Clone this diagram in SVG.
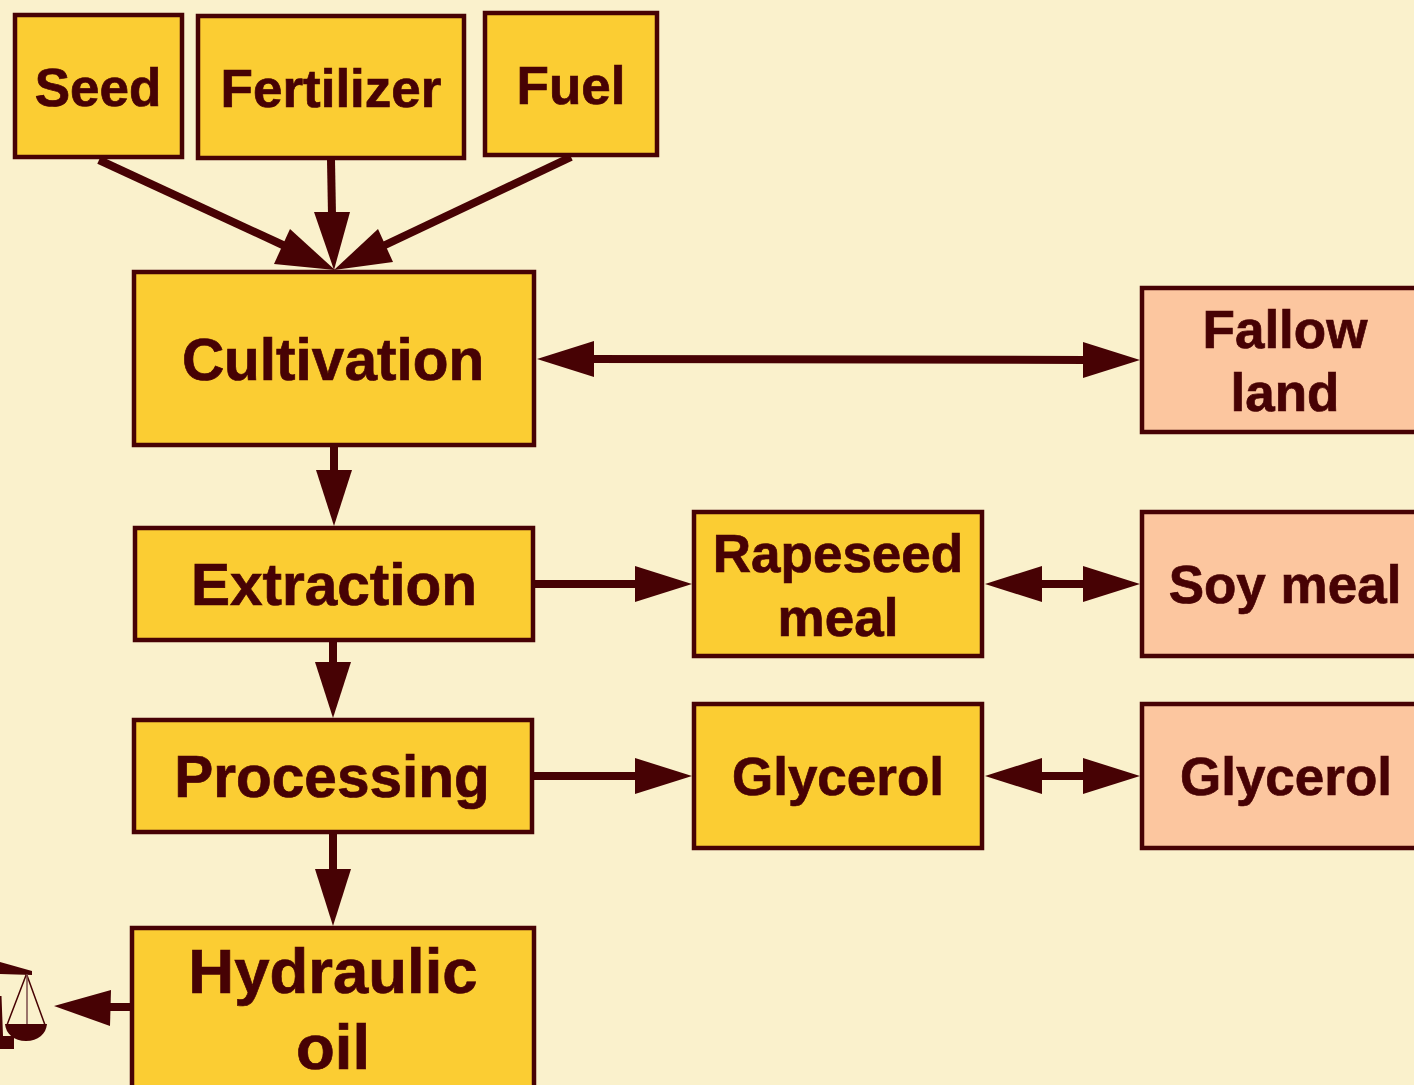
<svg xmlns="http://www.w3.org/2000/svg" width="1414" height="1085" viewBox="0 0 1414 1085">
<style>
.y{fill:#fbcd33;stroke:#470204;stroke-width:4.5}
.p{fill:#fcc69f;stroke:#470204;stroke-width:4.5}
text{font-family:"Liberation Sans",Arial,sans-serif;font-weight:700;fill:#470204;stroke:#470204;stroke-width:.7;text-anchor:middle}
.s{font-size:53px}.m{font-size:58.5px}.l{font-size:63.500px}
.c{fill:none;stroke:#470204;stroke-width:8}
.h{fill:#470204;stroke:none}
</style>
<rect width="1414" height="1085" fill="#faf1cc"/>
<g id="connectors">
<path class="c" d="M99 160L285 246"/><polygon class="h" points="335,270 274,264 290,229"/>
<path class="c" d="M331 160L332 215"/><polygon class="h" points="334,270 314,212 350,212"/>
<path class="c" d="M571 157L383 246"/><polygon class="h" points="334,270 378,229 393,262"/>
<path class="c" d="M590 359L1085 360"/><polygon class="h" points="537,359 594,341 594,377"/><polygon class="h" points="1140,360 1083,342 1083,378"/>
<path class="c" d="M334 446V470"/><polygon class="h" points="334,526 316,470 352,470"/>
<path class="c" d="M534 584H637"/><polygon class="h" points="692,584 635,566 635,602"/>
<path class="c" d="M333 640V662"/><polygon class="h" points="333,718 315,662 351,662"/>
<path class="c" d="M1040 584H1085"/><polygon class="h" points="985,584 1042,566 1042,602"/><polygon class="h" points="1140,584 1083,566 1083,602"/>
<path class="c" d="M533 776H637"/><polygon class="h" points="692,776 635,758 635,794"/>
<path class="c" d="M1040 776H1085"/><polygon class="h" points="985,776 1042,758 1042,794"/><polygon class="h" points="1140,776 1083,758 1083,794"/>
<path class="c" d="M333 832V870"/><polygon class="h" points="333,926 315,869 351,869"/>
<path class="c" d="M130 1007H108"/><polygon class="h" points="54,1006 111,990 110,1026"/>
</g>
<g id="seed"><rect class="y" x="15" y="15" width="167" height="142"/><text class="s" x="98" y="106">Seed</text></g>
<g id="fertilizer"><rect class="y" x="198" y="16" width="266" height="142"/><text class="s" x="331" y="107">Fertilizer</text></g>
<g id="fuel"><rect class="y" x="485" y="13" width="172" height="142"/><text class="s" x="571" y="104">Fuel</text></g>
<g id="cultivation"><rect class="y" x="134" y="272" width="400" height="173"/><text class="m" x="333" y="380">Cultivation</text></g>
<g id="fallow"><rect class="p" x="1142" y="288" width="290" height="144"/><text class="s" x="1285" y="348">Fallow</text><text class="s" x="1285" y="411">land</text></g>
<g id="extraction"><rect class="y" x="135" y="528" width="398" height="112"/><text class="m" x="334" y="605">Extraction</text></g>
<g id="rapeseed"><rect class="y" x="694" y="512" width="288" height="144"/><text class="s" x="838" y="572">Rapeseed</text><text class="s" x="838" y="636">meal</text></g>
<g id="soy"><rect class="p" x="1142" y="512" width="290" height="144"/><text class="s" x="1285" y="603">Soy meal</text></g>
<g id="processing"><rect class="y" x="134" y="720" width="398" height="112"/><text class="m" x="332" y="797">Processing</text></g>
<g id="glycerol1"><rect class="y" x="694" y="704" width="288" height="144"/><text class="s" x="838" y="795">Glycerol</text></g>
<g id="glycerol2"><rect class="p" x="1142" y="704" width="290" height="144"/><text class="s" x="1286" y="795">Glycerol</text></g>
<g id="hydraulic"><rect class="y" x="132" y="928" width="402" height="170"/><text class="l" x="333" y="993">Hydraulic</text><text class="l" x="333" y="1069">oil</text></g>
<g id="scales">
<polygon class="h" points="0,962 32,971 32,975 0,974"/>
<path d="M26.500 974L7 1025M26.500 974L45 1025" fill="none" stroke="#470204" stroke-width="1.500"/>
<path d="M27 974V1025" fill="none" stroke="#7a4a4a" stroke-width="1.500"/>
<path class="h" d="M5 1024H47C46 1034 38 1041 26 1041C14 1041 6 1034 5 1024Z"/>
<path class="h" d="M0 996H1.500L3 1036H14V1049H0Z"/>
</g>
</svg>
